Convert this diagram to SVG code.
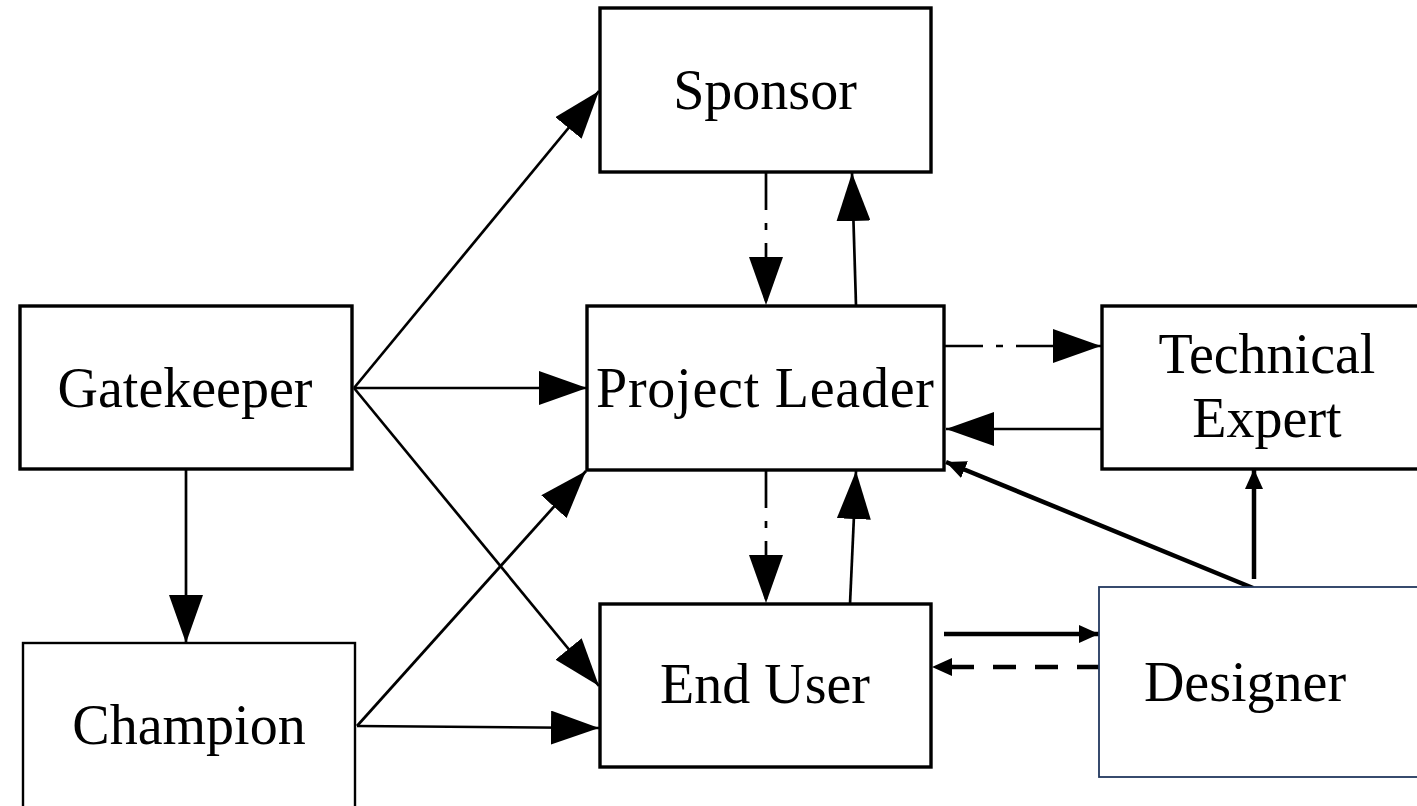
<svg xmlns="http://www.w3.org/2000/svg" width="1417" height="806" viewBox="0 0 1417 806">
  <style>
    .box { fill: #ffffff; stroke: #000000; stroke-width: 3.4; }
    .box-thin { fill: #ffffff; stroke: #000000; stroke-width: 2.4; }
    .box-navy { fill: #ffffff; stroke: #22385e; stroke-width: 1.8; }
    .label { font-family: "Liberation Serif", "Times New Roman", serif; font-size: 56px; fill: #000000; text-anchor: middle; }
    .edge { fill: none; stroke: #000000; stroke-width: 2.7; }
    .edge-bold { fill: none; stroke: #000000; stroke-width: 4.5; }
    .dashdot { stroke-dasharray: 38 13 7 13; }
    .dashed { stroke-dasharray: 23 19; }
  </style>
  <defs>
    <marker id="head" markerUnits="userSpaceOnUse" markerWidth="48" markerHeight="34" refX="48" refY="17" orient="auto">
      <path d="M0,0 L48,17 L0,34 z" fill="#000000"/>
    </marker>
    <marker id="head-small" markerUnits="userSpaceOnUse" markerWidth="20" markerHeight="18" refX="20" refY="9" orient="auto">
      <path d="M0,0 L20,9 L0,18 z" fill="#000000"/>
    </marker>
  </defs>

  <rect width="1417" height="806" fill="#ffffff"/>

  <!-- connectors -->
  <g id="connectors">
    <line class="edge" x1="354" y1="388" x2="599" y2="91" marker-end="url(#head)"/>
    <line class="edge" x1="354" y1="388" x2="587" y2="388" marker-end="url(#head)"/>
    <line class="edge" x1="354" y1="388" x2="599" y2="686" marker-end="url(#head)"/>
    <line class="edge" x1="186" y1="469" x2="186" y2="643" marker-end="url(#head)"/>
    <line class="edge" x1="357" y1="726" x2="586" y2="471" marker-end="url(#head)"/>
    <line class="edge" x1="357" y1="726" x2="599" y2="728" marker-end="url(#head)"/>
    <line class="edge dashdot" x1="766" y1="172" x2="766" y2="305" marker-end="url(#head)"/>
    <line class="edge" x1="856" y1="305" x2="852" y2="173" marker-end="url(#head)"/>
    <line class="edge dashdot" x1="766" y1="470" x2="766" y2="603" marker-end="url(#head)"/>
    <line class="edge" x1="850" y1="604" x2="856" y2="471" marker-end="url(#head)"/>
    <line class="edge dashdot" x1="945" y1="346" x2="1101" y2="346" marker-end="url(#head)"/>
    <line class="edge" x1="1102" y1="429" x2="946" y2="429" marker-end="url(#head)"/>
    <line class="edge-bold" x1="1253" y1="588" x2="946" y2="462" marker-end="url(#head-small)"/>
    <line class="edge-bold" x1="1254" y1="579" x2="1254" y2="469" marker-end="url(#head-small)"/>
    <line class="edge-bold" x1="944" y1="634" x2="1099" y2="634" marker-end="url(#head-small)"/>
    <line class="edge-bold dashed" x1="1100" y1="667" x2="932" y2="667" marker-end="url(#head-small)"/>
  </g>

  <!-- nodes -->
  <g id="sponsor">
    <rect class="box" x="600" y="8" width="331" height="164"/>
    <text class="label" x="765" y="109">Sponsor</text>
  </g>
  <g id="gatekeeper">
    <rect class="box" x="20" y="306" width="332" height="163"/>
    <text class="label" x="185" y="407">Gatekeeper</text>
  </g>
  <g id="project-leader">
    <rect class="box" x="587" y="306" width="357" height="164"/>
    <text class="label" x="765" y="407" textLength="338" lengthAdjust="spacing">Project Leader</text>
  </g>
  <g id="technical-expert">
    <rect class="box" x="1102" y="306" width="330" height="163"/>
    <text class="label" x="1267" y="373">Technical</text>
    <text class="label" x="1267" y="437">Expert</text>
  </g>
  <g id="champion">
    <rect class="box-thin" x="23" y="643" width="332" height="190"/>
    <text class="label" x="189" y="744">Champion</text>
  </g>
  <g id="end-user">
    <rect class="box" x="600" y="604" width="331" height="163"/>
    <text class="label" x="765" y="703">End User</text>
  </g>
  <g id="designer">
    <rect class="box-navy" x="1099" y="587" width="340" height="190"/>
    <text class="label" x="1245" y="701">Designer</text>
  </g>
</svg>
